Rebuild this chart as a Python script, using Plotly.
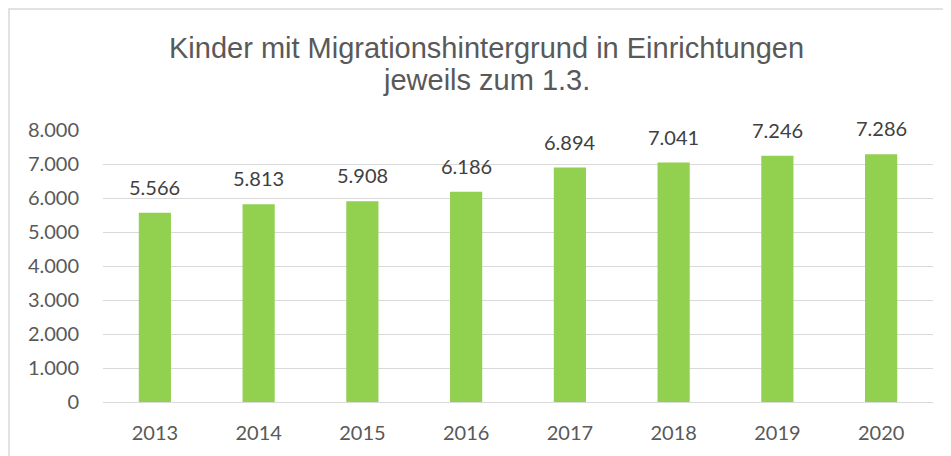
import plotly.graph_objects as go

years = ["2013", "2014", "2015", "2016", "2017", "2018", "2019", "2020"]
values = [5566, 5813, 5908, 6186, 6894, 7041, 7246, 7286]
title_lines = ["Kinder mit Migrationshintergrund in Einrichtungen", "jeweils zum 1.3."]

OFF = 8  # browser body margin
W, H = 951 - OFF, 456 - OFF
L, R, T, B = 103 - OFF, 18, 130 - OFF, 54
pw, ph = W - L - R, H - T - B

def px_x(p):
    return (p - OFF - L) / pw

def px_y(p):
    return (H - B - (p - OFF)) / ph

FONT = "Lato, Carlito, sans-serif"

fig = go.Figure(go.Bar(
    x=years, y=values,
    marker=dict(color="#92D050", line=dict(width=0)),
    width=0.31,
    hoverinfo="x+y",
))

annotations = []
for line, yc in zip(title_lines, [48, 80]):
    annotations.append(dict(
        text=line, xref="paper", yref="paper",
        x=px_x(486), y=px_y(yc), xanchor="center", yanchor="middle",
        showarrow=False,
        font=dict(family="Liberation Sans, Arial, sans-serif", size=29, color="#595959"),
    ))

# data labels above bars (category index positions)
for i, v in enumerate(values):
    annotations.append(dict(
        x=i, y=v, xref="x", yref="y",
        text=f"{v:,}".replace(",", "."),
        showarrow=False, xanchor="center", yanchor="middle", yshift=26,
        font=dict(family=FONT, size=20, color="#404040"),
    ))

fig.update_layout(
    width=W, height=H,
    margin=dict(l=L, r=R, t=T, b=B),
    paper_bgcolor="white", plot_bgcolor="white",
    separators=",.",
    showlegend=False,
    annotations=annotations,
    xaxis=dict(
        type="category", range=[-0.5, len(years) - 0.5],
        showgrid=False, showline=False, ticks="",
        tickfont=dict(family=FONT, size=20, color="#595959"),
        ticklabelstandoff=17,
    ),
    yaxis=dict(
        range=[0, 8000], dtick=1000, tickformat=",d",
        showgrid=True, gridcolor="#d9d9d9", gridwidth=1,
        zeroline=True, zerolinecolor="#d9d9d9", zerolinewidth=1,
        showline=False, ticks="",
        tickfont=dict(family=FONT, size=20, color="#595959"),
        ticklabelstandoff=23,
    ),
    shapes=[dict(
        type="rect", xref="paper", yref="paper",
        x0=px_x(9), x1=px_x(965), y0=px_y(470), y1=px_y(9),
        line=dict(color="#d9d9d9", width=1.5), fillcolor="rgba(0,0,0,0)",
        layer="below",
    )],
)

fig.write_html("out.html")
